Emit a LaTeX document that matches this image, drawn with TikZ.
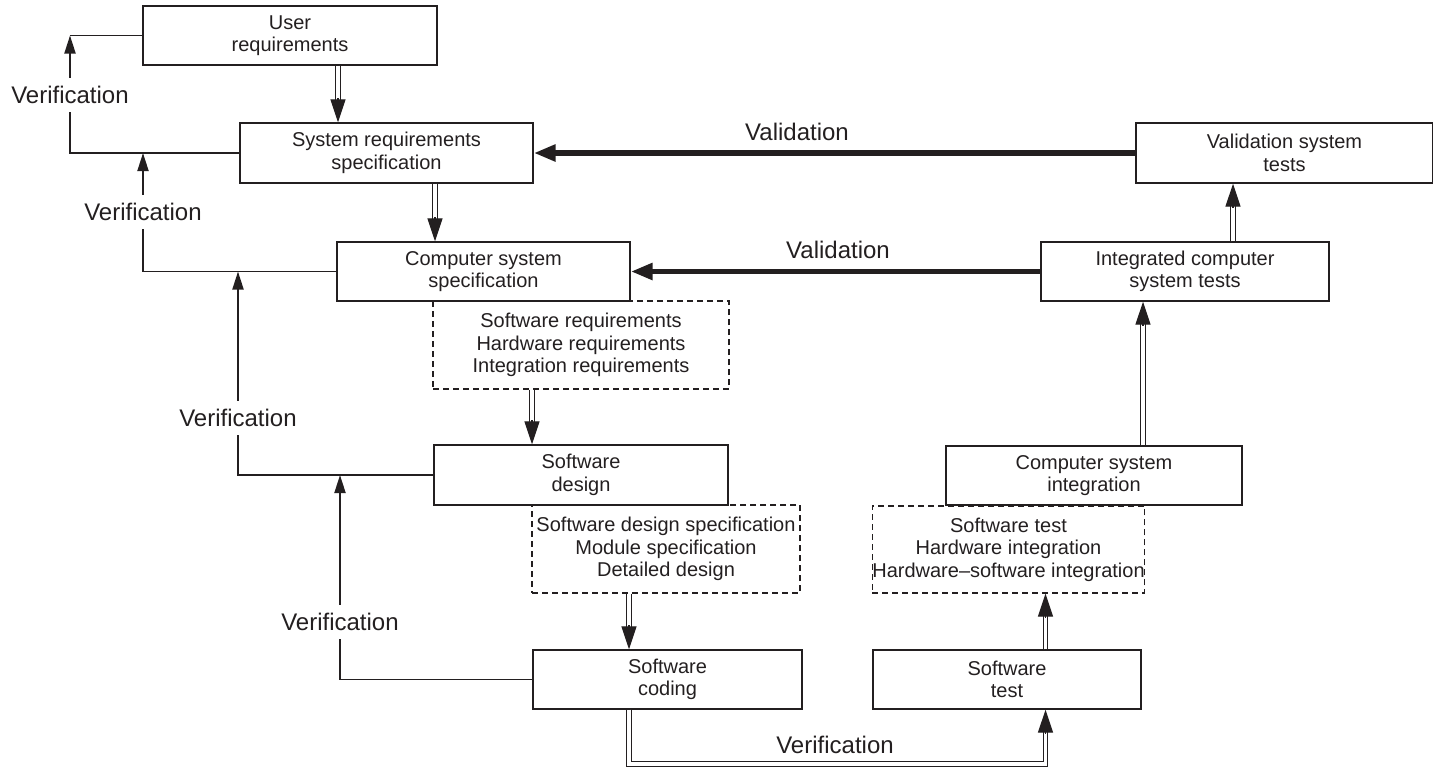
\documentclass[tikz,border=0pt]{standalone}
\usepackage{fontspec}
\setmainfont{Liberation Sans}
\usetikzlibrary{arrows.meta,calc}
\definecolor{ink}{RGB}{35,31,32}
\newcommand\bxfont{\fontsize{20}{22.6}\selectfont}
\newcommand\lbfont{\fontsize{24}{26}\selectfont}
\begin{document}
\begin{tikzpicture}[x=1pt,y=-1pt,
  box/.style={draw=ink, line width=1.4pt, align=center, inner sep=0pt, font=\bxfont, text=ink},
  dbox/.style={box, line width=1.3pt, dash pattern=on 6pt off 4pt},
  lbl/.style={font=\lbfont, text=ink, inner sep=2pt},
  gaplbl/.style={lbl, fill=white, text height=17pt, text depth=1pt, inner ysep=8pt, inner xsep=1pt},
  dbl/.style={draw=ink, double=white, line width=1.3pt, double distance=3.2pt},
  dtip/.style={color=ink, line width=1.3pt, -{Triangle[length=23pt,width=15pt]}},
  vline/.style={draw=ink, line width=1.9pt},
  vtip/.style={-{Triangle[length=18pt,width=11pt]}},
  vthick/.style={draw=ink, line width=5.5pt, -{Triangle[length=22pt,width=16pt]}}]
\useasboundingbox (0,0) rectangle (1433,769);

% columns used by the connectors
\coordinate (ca) at (338,0);
\coordinate (cb) at (435,0);
\coordinate (cc) at (532,0);
\coordinate (cd) at (629,0);
\coordinate (ce) at (1045.5,0);
\coordinate (cf) at (1143,0);
\coordinate (cg) at (1233,0);
\coordinate (v1) at (70,0);
\coordinate (v2) at (143,0);
\coordinate (v3) at (238,0);
\coordinate (v4) at (340,0);
\coordinate (vb) at (0,764);

% dashed work-product boxes (drawn first, solid boxes sit on their top edges)
\node[dbox, minimum width=296pt, minimum height=88pt] (dreq) at (581,345)
  {Software requirements\\Hardware requirements\\Integration requirements};
\node[dbox, minimum width=268pt, minimum height=88pt] (dspec) at (666,549)
  {Software design specification\\Module specification\\Detailed design};
\node[dbox, minimum width=269pt, minimum height=87pt] (dtest) at (1008.5,549.5)
  {Software test\\Hardware integration\\Hardware--software integration};

% phase boxes
\node[box, minimum width=294pt, minimum height=59pt] (ureq) at (290,35.5) {User\\requirements};
\node[box, minimum width=293pt, minimum height=60pt] (sreq) at (386.5,153) {System requirements\\specification};
\node[box, minimum width=293pt, minimum height=59pt] (csys) at (483.5,271.5) {Computer system\\specification};
\node[box, minimum width=294pt, minimum height=60pt] (sdes) at (581,475) {Software\\design};
\node[box, minimum width=269pt, minimum height=59pt] (scod) at (667.5,679.5) {Software\\coding};
\node[box, minimum width=268pt, minimum height=59pt] (stest) at (1007,679.5) {Software\\test};
\node[box, minimum width=296pt, minimum height=59pt] (csi) at (1094,475.5) {Computer system\\integration};
\node[box, minimum width=288pt, minimum height=59pt] (ict) at (1185,271.5) {Integrated computer\\system tests};
\node[box, minimum width=297pt, minimum height=60pt] (vst) at (1284.5,153) {Validation system\\tests};

% double-line flow arrows, downward leg
\draw[dbl, shorten >=20pt] (ureq.south -| ca) -- (sreq.north -| ca);
\draw[dtip] ($(sreq.north -| ca)+(0,-24)$) -- (sreq.north -| ca);
\draw[dbl, shorten >=20pt] (sreq.south -| cb) -- (csys.north -| cb);
\draw[dtip] ($(csys.north -| cb)+(0,-24)$) -- (csys.north -| cb);
\draw[dbl, shorten >=20pt] (dreq.south -| cc) -- (sdes.north -| cc);
\draw[dtip] ($(sdes.north -| cc)+(0,-24)$) -- (sdes.north -| cc);
\draw[dbl, shorten >=20pt] (dspec.south -| cd) -- (scod.north -| cd);
\draw[dtip] ($(scod.north -| cd)+(0,-24)$) -- (scod.north -| cd);

% coding to test
\draw[dbl, shorten >=20pt] (scod.south -| cd) -- (vb -| cd) -- (vb -| ce) -- (stest.south -| ce);
\draw[dtip] ($(stest.south -| ce)+(0,24)$) -- (stest.south -| ce);

% double-line flow arrows, upward leg
\draw[dbl, shorten >=20pt] (stest.north -| ce) -- (dtest.south -| ce);
\draw[dtip] ($(dtest.south -| ce)+(0,24)$) -- (dtest.south -| ce);
\draw[dbl, shorten >=20pt] (csi.north -| cf) -- (ict.south -| cf);
\draw[dtip] ($(ict.south -| cf)+(0,24)$) -- (ict.south -| cf);
\draw[dbl, shorten >=20pt] (ict.north -| cg) -- (vst.south -| cg);
\draw[dtip] ($(vst.south -| cg)+(0,24)$) -- (vst.south -| cg);

% verification feedback lines
\draw[vline] (ureq.west) -- (ureq.west -| v1);
\draw[vline, vtip] (sreq.west) -- (sreq.west -| v1) -- (ureq.west -| v1);
\draw[vline, vtip] (csys.west) -- (csys.west -| v2) -- (sreq.west -| v2);
\draw[vline, vtip] (sdes.west) -- (sdes.west -| v3) -- (csys.west -| v3);
\draw[vline, vtip] (scod.west) -- (scod.west -| v4) -- (sdes.west -| v4);

% validation arrows
\draw[vthick] (vst.west) -- (sreq.east);
\draw[vthick] (ict.west) -- (csys.east);

% labels
\node[gaplbl] (lv1) at (70,95) {Verification};
\node[gaplbl] (lv2) at (143,212) {Verification};
\node[gaplbl] (lv3) at (238,418) {Verification};
\node[gaplbl] (lv4) at (340,622) {Verification};
\node[lbl] (lva) at (797,132) {Validation};
\node[lbl] (lvb) at (838,250) {Validation};
\node[lbl] (lvc) at (835,745) {Verification};
\end{tikzpicture}
\end{document}
